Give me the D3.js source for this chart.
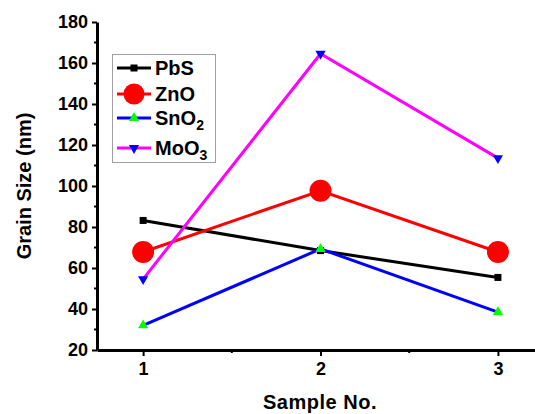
<!DOCTYPE html>
<html>
<head>
<meta charset="utf-8">
<script src="https://d3js.org/d3.v7.min.js"></script>
<style>
  body { margin: 0; background: #fff; }
  text { font-family: "Liberation Sans", Arial, sans-serif; font-weight: bold; }
</style>
</head>
<body>
<svg width="535" height="414"></svg>
<script>
// data
var samples = [1, 2, 3];
var pbs  = [83.2, 68.5, 55.4];
var zno  = [67.8, 97.7, 67.8];
var sno2 = [32.0, 69.3, 38.5];
var moo3 = [54.6, 164.5, 113.6];
var yTicks = [20, 40, 60, 80, 100, 120, 140, 160, 180];

var series = [
  { name: 'PbS', sub: '', values: pbs, line: '#000000', fill: '#000000', shape: 'square' },
  { name: 'ZnO', sub: '', values: zno, line: '#ff0000', fill: '#ff0000', shape: 'circle' },
  { name: 'SnO', sub: '2', values: sno2, line: '#0000ff', fill: '#00ff00', shape: 'up' },
  { name: 'MoO', sub: '3', values: moo3, line: '#ff00ff', fill: '#0000ff', shape: 'down' }
];

var svg = d3.select('svg');
var plotLeft = 97, plotBottom = 350, plotTop = 22;

var x = d3.scaleLinear().domain([0.74, 3.25]).range([plotLeft, plotLeft + 2.51 * 177.4]);
var y = d3.scaleLinear().domain([20, 180]).range([plotBottom, plotTop]);

// y axis
var yAxis = svg.append('g')
  .attr('transform', 'translate(' + plotLeft + ',0)')
  .call(d3.axisLeft(y).tickValues(yTicks).tickSize(5).tickSizeOuter(0).tickPadding(4));
yAxis.append('g').selectAll('line')
  .data(d3.range(30, 180, 20)).enter().append('line')
  .attr('x1', 0).attr('x2', -3)
  .attr('y1', function(d) { return y(d); }).attr('y2', function(d) { return y(d); })
  .attr('stroke', '#000').attr('stroke-width', 2);

// x axis
var xAxis = svg.append('g')
  .attr('transform', 'translate(0,' + plotBottom + ')')
  .call(d3.axisBottom(x).tickValues(samples).tickFormat(d3.format('d')).tickSize(6).tickSizeOuter(0).tickPadding(6));
xAxis.append('g').selectAll('line')
  .data([1.5, 2.5]).enter().append('line')
  .attr('y1', 0).attr('y2', 3)
  .attr('x1', function(d) { return x(d); }).attr('x2', function(d) { return x(d); })
  .attr('stroke', '#000').attr('stroke-width', 2);

svg.selectAll('.domain').attr('stroke', '#000').attr('stroke-width', 3);
svg.selectAll('.tick line').attr('stroke', '#000').attr('stroke-width', 2);
svg.selectAll('.tick text')
  .style('font-size', '18px').style('font-weight', 'bold').attr('fill', '#000')
  .style('font-family', '"Liberation Sans", Arial, sans-serif');

// axis titles
svg.append('text')
  .attr('transform', 'translate(31,186) rotate(-90)')
  .attr('text-anchor', 'middle')
  .style('font-size', '20px')
  .text('Grain Size (nm)');
svg.append('text')
  .attr('x', 320).attr('y', 409)
  .attr('text-anchor', 'middle')
  .style('font-size', '20px')
  .style('letter-spacing', '0.5px')
  .text('Sample No.');

function drawMarker(g, shape, fill, cx, cy, big) {
  if (shape === 'square') {
    g.append('rect').attr('x', cx - 3.5).attr('y', cy - 3.5).attr('width', 7).attr('height', 7).attr('fill', fill);
  } else if (shape === 'circle') {
    g.append('circle').attr('cx', cx).attr('cy', cy).attr('r', big ? 11 : 10.5).attr('fill', fill);
  } else if (shape === 'up') {
    g.append('path').attr('d', d3.symbol(d3.symbolTriangle, 45)()).attr('transform', 'translate(' + cx + ',' + cy + ')').attr('fill', fill);
  } else {
    g.append('path').attr('d', d3.symbol(d3.symbolTriangle, 45)()).attr('transform', 'translate(' + cx + ',' + cy + ') rotate(180)').attr('fill', fill);
  }
}

var line = d3.line()
  .x(function(d, i) { return x(samples[i]); })
  .y(function(d) { return y(d); });

series.forEach(function(s) {
  var g = svg.append('g');
  g.append('path')
    .attr('d', line(s.values))
    .attr('fill', 'none')
    .attr('stroke', s.line)
    .attr('stroke-width', 3);
  s.values.forEach(function(v, i) {
    drawMarker(g, s.shape, s.fill, x(samples[i]), y(v), true);
  });
});

// legend
var leg = svg.append('g');
leg.append('rect')
  .attr('x', 112.5).attr('y', 54.5).attr('width', 103).attr('height', 108)
  .attr('fill', '#fff').attr('stroke', '#a0a0a0').attr('stroke-width', 1);
var legY = [68, 94, 118, 148];
series.forEach(function(s, i) {
  var cy = legY[i];
  leg.append('line')
    .attr('x1', 117).attr('x2', 151).attr('y1', cy).attr('y2', cy)
    .attr('stroke', s.line).attr('stroke-width', 3);
  drawMarker(leg, s.shape, s.fill, 134, cy, false);
  var t = leg.append('text')
    .attr('x', 155).attr('y', cy + 7)
    .style('font-size', '20px')
    .text(s.name);
  if (s.sub) {
    t.append('tspan').style('font-size', '14px').attr('dy', 5).text(s.sub);
  }
});
</script>
</body>
</html>
